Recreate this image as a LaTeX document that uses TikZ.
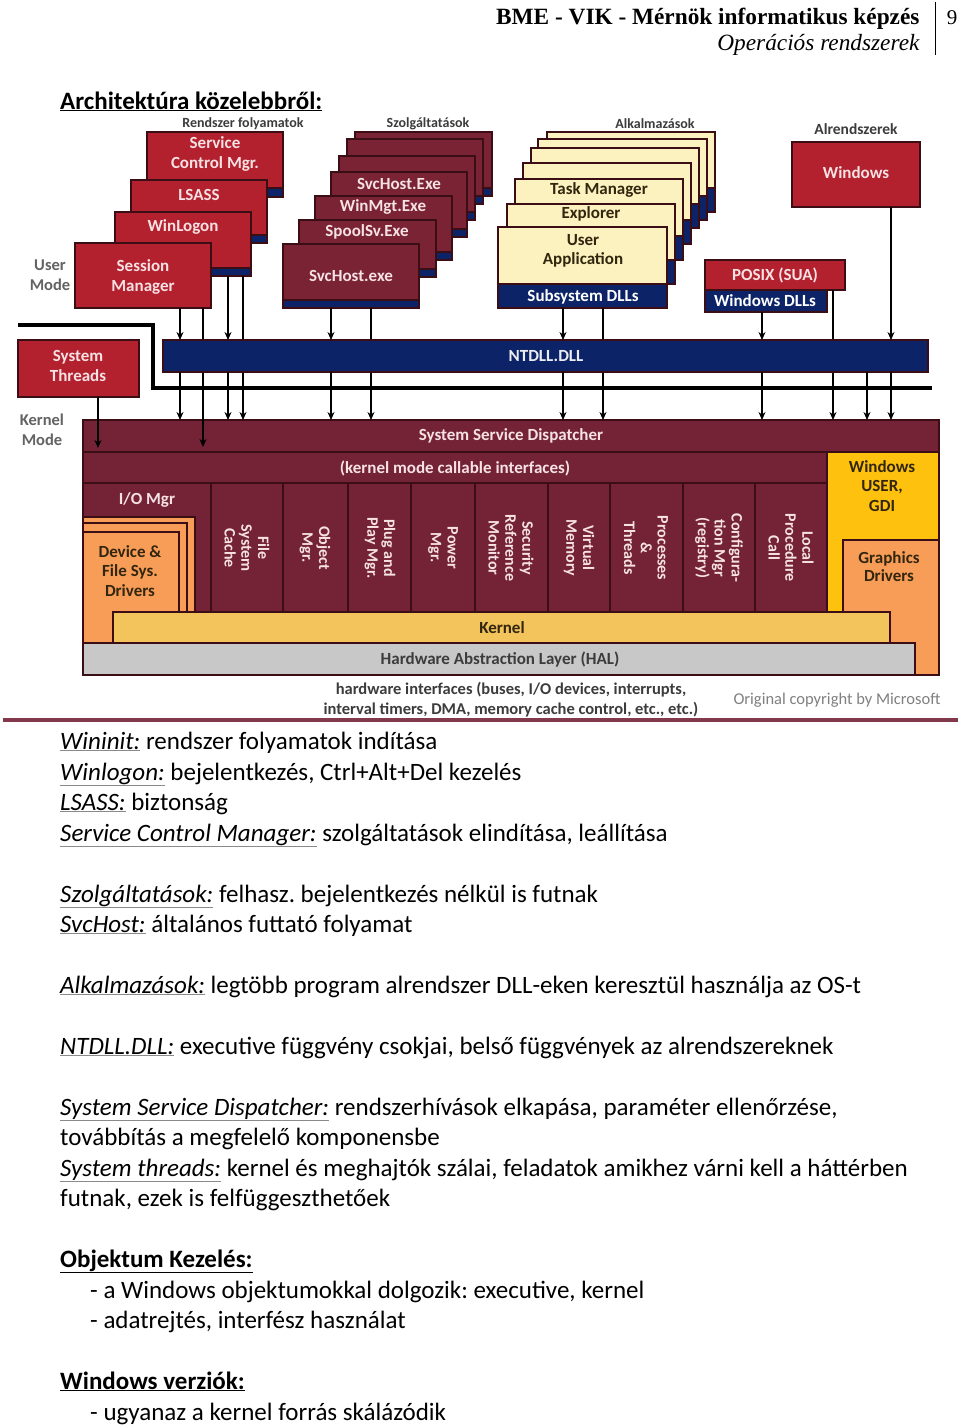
\documentclass[tikz,border=0pt]{standalone}
\usepackage{fontspec}
\setmainfont{Carlito}
\newfontfamily\hdrfont{Liberation Serif}
\usetikzlibrary{arrows.meta}
\frenchspacing
\definecolor{sysred}{HTML}{B3202E}
\definecolor{svcred}{HTML}{7A2334}
\definecolor{navy}{HTML}{0C2467}
\definecolor{cream}{HTML}{FBF2BF}
\definecolor{kmaroon}{HTML}{742337}
\definecolor{usergdi}{HTML}{FDC10E}
\definecolor{drvorange}{HTML}{F89D58}
\definecolor{kernelbar}{HTML}{F3C35C}
\definecolor{halgray}{HTML}{C8C8C8}
\definecolor{boxline}{HTML}{3A0E14}
\definecolor{lighttext}{HTML}{F6E1E3}
\definecolor{labelgray}{HTML}{3C3C3C}
\definecolor{darktext}{HTML}{33260E}
\definecolor{ulgray}{HTML}{8A8A8A}
\newcommand\gul[1]{{\color{ulgray}\underline{\color{black}#1}}}
\newcommand\mybox[6]{\node[blk,#6,minimum width={#4-#2},minimum height={#5-#3}] (#1) at (#2,#3) {};}
\newcommand\stackbox[7]{%
  \node[blk,fill=#6,minimum width={#4-#2},minimum height={#5-#3}] (#1) at (#2,#3) {};%
  \node[blk,fill=navy,minimum width={#4-#2},minimum height={#7}] (#1s) at (#2,{#5-#7}) {};}
\begin{document}
\begin{tikzpicture}[x=1pt,y=-1pt,
  blk/.style={draw=boxline,line width=1.1pt,inner sep=0pt,outer sep=0pt,anchor=north west},
  lbl/.style={font=\bfseries\fontsize{17}{20}\selectfont,text=lighttext,align=center,inner sep=0pt},
  dlbl/.style={font=\bfseries\fontsize{17}{19.5}\selectfont,text=darktext,align=center,inner sep=0pt},
  rlbl/.style={font=\bfseries\fontsize{16}{16.8}\selectfont,text=lighttext,align=center,inner sep=0pt,rotate=-90},
  glbl/.style={font=\bfseries\fontsize{14}{16}\selectfont,text=labelgray,inner sep=0pt},
  mlbl/.style={font=\bfseries\fontsize{16.5}{20}\selectfont,text=labelgray!80,align=center,inner sep=0pt},
  arr/.style={line width=2pt,-{Stealth[length=8pt,width=7pt]}},
  body/.style={font=\fontsize{25}{30}\selectfont\frenchspacing,anchor=base west,inner sep=0pt}]
\fill[white] (0,0) rectangle (960,1427);
\useasboundingbox (0,0) rectangle (960,1427);

% header
\node[anchor=base east,font=\hdrfont\bfseries\fontsize{23.3}{27}\selectfont] (hdr1) at (923,24) {BME - VIK - Mérnök informatikus képzés};
\node[anchor=base east,font=\hdrfont\itshape\fontsize{23.3}{27}\selectfont] (hdr2) at (923,50) {Operációs rendszerek};
\node[anchor=base,font=\hdrfont\fontsize{21}{25}\selectfont] (pg) at (952,24) {9};
\coordinate (vA) at (935,2);
\coordinate (vB) at (935,55);
\draw[line width=0.8pt] (vA) -- (vB);
\node[anchor=base west,inner sep=0pt,font=\bfseries\fontsize{25}{29}\selectfont] (arch) at (60,109) {\underline{Architektúra közelebbről:}};

% group labels
\node[glbl] (grp1) at (243,124) {Rendszer folyamatok};
\node[glbl] (grp2) at (428,124) {Szolgáltatások};
\node[glbl] (grp3) at (655,124) {Alkalmazások};
\node[glbl,font=\bfseries\fontsize{15.5}{18}\selectfont] (grp4) at (856,129) {Alrendszerek};

% system processes
\stackbox{scm}{147}{132}{283}{197}{sysred}{9}
\stackbox{lsass}{131}{180}{267}{243}{sysred}{8}
\stackbox{winlogon}{115}{212}{251}{276}{sysred}{8}
\mybox{session}{75}{243}{211}{308}{fill=sysred}
\node[lbl] (scmt) at (215,154) {Service\\Control Mgr.};
\node[lbl] (lsasst) at (199,195) {LSASS};
\node[lbl] (winlogont) at (183,227) {WinLogon};
\node[lbl] (sessiont) at (143,277) {Session\\Manager};
\node[mlbl] (umode) at (50,275) {User\\Mode};

% services
\stackbox{sv7}{355}{132}{492}{196}{svcred}{8}
\stackbox{sv6}{347}{139}{483}{204}{svcred}{8}
\stackbox{sv5}{339}{156}{475}{220}{svcred}{8}
\stackbox{sv4}{331}{172}{467}{237}{svcred}{8}
\stackbox{sv3}{315}{196}{452}{260}{svcred}{8}
\stackbox{sv2}{299}{220}{436}{277}{svcred}{8}
\stackbox{sv1}{283}{244}{419}{308}{svcred}{8}
\node[lbl] (sv4t) at (399,184) {SvcHost.Exe};
\node[lbl] (sv3t) at (383,207) {WinMgt.Exe};
\node[lbl] (sv2t) at (367,232) {SpoolSv.Exe};
\node[lbl] (sv1t) at (351,276) {SvcHost.exe};

% applications
\stackbox{ap1}{547}{132}{715}{212}{cream}{24}
\stackbox{ap2}{538}{139}{707}{220}{cream}{24}
\stackbox{ap3}{531}{148}{699}{228}{cream}{24}
\stackbox{ap4}{523}{163}{691}{244}{cream}{24}
\stackbox{ap5}{515}{179}{683}{260}{cream}{24}
\stackbox{ap6}{507}{204}{675}{284}{cream}{24}
\stackbox{ap7}{498}{227}{667}{308}{cream}{24}
\node[dlbl] (ap5t) at (599,190) {Task Manager};
\node[dlbl] (ap6t) at (591,214) {Explorer};
\node[dlbl] (ap7t) at (583,251) {User\\Application};
\node[lbl,text=white] (ap7st) at (583,297) {Subsystem DLLs};

% subsystems
\mybox{win}{792}{142}{920}{207}{fill=sysred}
\node[lbl] (wint) at (856,173) {Windows};
\mybox{posix}{705}{260}{845}{290}{fill=sysred}
\node[lbl] (posixt) at (775,275) {POSIX (SUA)};
\mybox{windll}{705}{290}{827}{312}{fill=navy}
\node[lbl,text=white] (windllt) at (765,301) {Windows DLLs};

% system threads
\mybox{systh}{18}{340}{139}{397}{fill=sysred}
\node[lbl] (systht) at (78,366) {System\\Threads};
\node[mlbl] (kmode) at (42,430) {Kernel\\Mode};

% kernel block
\mybox{kern}{83}{420}{939}{675}{fill=kmaroon}
\mybox{ssd}{83}{420}{939}{452}{fill=kmaroon}
\mybox{kmci}{83}{452}{827}{483}{fill=kmaroon}
\mybox{iomgr}{83}{483}{211}{612}{fill=kmaroon}
\mybox{fsc}{211}{483}{283}{612}{fill=kmaroon}
\mybox{obj}{283}{483}{348}{612}{fill=kmaroon}
\mybox{pnp}{348}{483}{411}{612}{fill=kmaroon}
\mybox{pwr}{411}{483}{475}{612}{fill=kmaroon}
\mybox{srm}{475}{483}{548}{612}{fill=kmaroon}
\mybox{vm}{548}{483}{610}{612}{fill=kmaroon}
\mybox{pt}{610}{483}{683}{612}{fill=kmaroon}
\mybox{cfg}{683}{483}{755}{612}{fill=kmaroon}
\mybox{lpc}{755}{483}{827}{612}{fill=kmaroon}
\mybox{ugdi}{827}{452}{939}{612}{fill=usergdi}
\mybox{gdrv}{843}{540}{939}{675}{fill=drvorange}
\mybox{dd1}{83}{517}{195}{643}{fill=drvorange}
\mybox{dd2}{83}{523}{187}{643}{fill=drvorange}
\mybox{dd3}{83}{532}{179}{643}{fill=drvorange}
\mybox{kbar}{113}{612}{890}{643}{fill=kernelbar}
\mybox{hal}{83}{643}{915}{675}{fill=halgray}

\node[lbl] (ssdt) at (511,436) {System Service Dispatcher};
\node[lbl] (kmcit) at (455,468) {(kernel mode callable interfaces)};
\node[lbl] (iomgrt) at (147,500) {I/O Mgr};
\node[dlbl] (ddt) at (130,571) {Device \&\\File Sys.\\Drivers};
\node[rlbl] (fsct) at (247,548) {File\\System\\Cache};
\node[rlbl] (objt) at (315,548) {Object\\Mgr.};
\node[rlbl] (pnpt) at (380,548) {Plug and\\Play Mgr.};
\node[rlbl] (pwrt) at (443,548) {Power\\Mgr.};
\node[rlbl] (srmt) at (511,548) {Security\\Reference\\Monitor};
\node[rlbl] (vmt) at (579,548) {Virtual\\Memory};
\node[rlbl] (ptt) at (646,548) {Processes\\\&\\Threads};
\node[rlbl] (cfgt) at (719,548) {Configura-\\tion Mgr\\(registry)};
\node[rlbl] (lpct) at (791,548) {Local\\Procedure\\Call};
\node[dlbl] (ugdit) at (882,486) {Windows\\USER,\\GDI};
\node[dlbl,font=\bfseries\fontsize{17}{18}\selectfont] (gdrvt) at (889,567) {Graphics\\Drivers};
\node[dlbl] (kbart) at (502,628) {Kernel};
\node[dlbl,text=labelgray] (halt) at (500,660) {Hardware Abstraction Layer (HAL)};
\node[font=\bfseries\fontsize{16.5}{20}\selectfont,text=labelgray,align=center,inner sep=0pt] (hwt) at (511,700) {hardware interfaces (buses, I/O devices, interrupts,\\interval timers, DMA, memory cache control, etc., etc.)};
\node[font=\fontsize{16.5}{19}\selectfont,text=gray,inner sep=0pt] (copyt) at (837,700) {Original copyright by Microsoft};

% arrow columns
\foreach \xx in {98,180,203,228,243,331,371,563,603,762,833,867,891} {\coordinate (c\xx) at (\xx,0);}

% long lines passing behind NTDLL
\draw[arr,shorten >=5pt] (session.south -| c203) -- (ssd.south -| c203);
\draw[arr] (winlogon.south -| c243) -- (ssd.north -| c243);
\draw[arr] (sv1.south -| c371) -- (ssd.north -| c371);
\draw[arr] (ap7.south -| c603) -- (ssd.north -| c603);
\draw[arr] (posix.south -| c833) -- (ssd.north -| c833);
\draw[arr,shorten >=4pt] (systh.south -| c98) -- (ssd.south -| c98);

% NTDLL
\mybox{ntdll}{163}{340}{928}{372}{fill=navy}
\node[lbl,text=white!92!navy] (ntdllt) at (546,356) {NTDLL.DLL};

% arrows to and from NTDLL
\draw[arr] (session.south -| c180) -- (ntdll.north -| c180);
\draw[arr] (winlogon.south -| c228) -- (ntdll.north -| c228);
\draw[arr] (sv1.south -| c331) -- (ntdll.north -| c331);
\draw[arr] (ap7.south -| c563) -- (ntdll.north -| c563);
\draw[arr] (windll.south -| c762) -- (ntdll.north -| c762);
\draw[arr] (win.south -| c891) -- (ntdll.north -| c891);
\foreach \xx in {180,228,331,563,762,867,891} {\draw[arr] (ntdll.south -| c\xx) -- (ssd.north -| c\xx);}

% mode separator
\coordinate (sep1) at (18,325);
\coordinate (sep2) at (153,325);
\coordinate (sep3) at (153,388);
\coordinate (sep4) at (932,388);
\draw[line width=3.5pt] (sep1) -- (sep2) -- (sep3) -- (sep4);

% page rule
\fill[kmaroon!90] (3,718) rectangle (958,722);

% body text
\node[body] (b1) at (60,749) {\gul{\textit{Wininit:}} rendszer folyamatok indítása};
\node[body] (b2) at (60,780) {\gul{\textit{Winlogon:}} bejelentkezés, Ctrl+Alt+Del kezelés};
\node[body] (b3) at (60,810) {\gul{\textit{LSASS:}} biztonság};
\node[body] (b4) at (60,841) {\gul{\textit{Service Control Manager:}} szolgáltatások elindítása, leállítása};
\node[body] (b5) at (60,902) {\gul{\textit{Szolgáltatások:}} felhasz. bejelentkezés nélkül is futnak};
\node[body] (b6) at (60,932) {\gul{\textit{SvcHost:}} általános futtató folyamat};
\node[body] (b7) at (60,993) {\gul{\textit{Alkalmazások:}} legtöbb program alrendszer DLL-eken keresztül használja az OS-t};
\node[body] (b8) at (60,1054) {\gul{\textit{NTDLL.DLL:}} executive függvény csokjai, belső függvények az alrendszereknek};
\node[body] (b9) at (60,1115) {\gul{\textit{System Service Dispatcher:}} rendszerhívások elkapása, paraméter ellenőrzése,};
\node[body] (b10) at (60,1145) {továbbítás a megfelelő komponensbe};
\node[body] (b11) at (60,1176) {\gul{\textit{System threads:}} kernel és meghajtók szálai, feladatok amikhez várni kell a háttérben};
\node[body] (b12) at (60,1206) {futnak, ezek is felfüggeszthetőek};
\node[body] (b13) at (60,1267) {\textbf{\underline{Objektum Kezelés:}}};
\node[body] (b14) at (90,1298) {- a Windows objektumokkal dolgozik: executive, kernel};
\node[body] (b15) at (90,1328) {- adatrejtés, interfész használat};
\node[body] (b16) at (60,1389) {\textbf{\underline{Windows verziók:}}};
\node[body] (b17) at (90,1420) {- ugyanaz a kernel forrás skálázódik};
\end{tikzpicture}
\end{document}
